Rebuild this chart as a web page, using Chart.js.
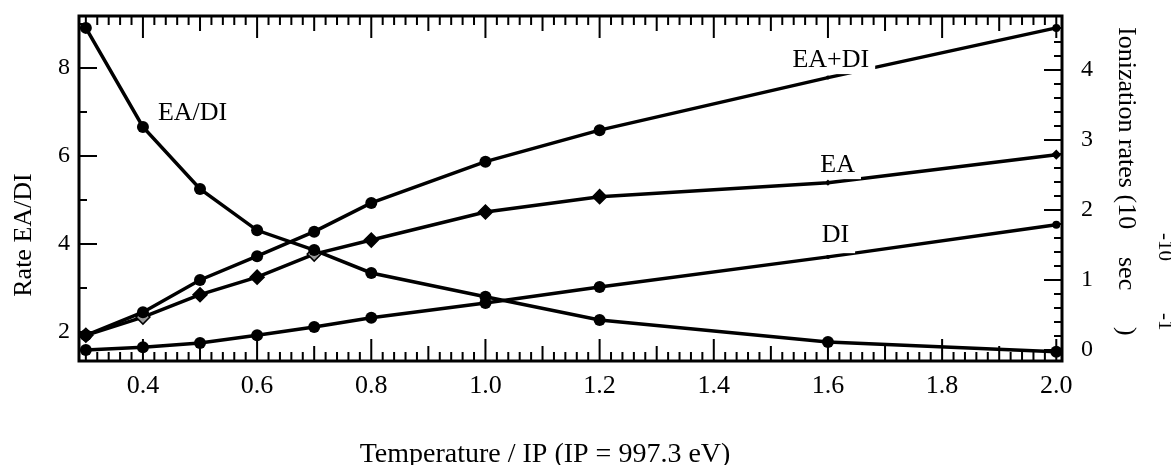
<!DOCTYPE html>
<html>
<head>
<meta charset="utf-8">
<script src="https://cdn.jsdelivr.net/npm/chart.js@4.4.1/dist/chart.umd.min.js"></script>
<style>
  body { margin: 0; background: #fff; }
  #wrap { width: 1171px; height: 465px; position: relative; }
</style>
</head>
<body>
<div id="wrap"><canvas id="rateChart"></canvas></div>
<script>
// data
var temps      = [0.3, 0.4, 0.5, 0.6, 0.7, 0.8, 1.0, 1.2, 1.6, 2.0];
var ratioEaDi  = [8.91, 6.66, 5.25, 4.31, 3.86, 3.34, 2.80, 2.27, 1.77, 1.55]; // left axis
var rateEaDi   = [0.21, 0.54, 1.00, 1.34, 1.69, 2.10, 2.69, 3.14, 3.89, 4.60]; // right axis
var rateEa     = [0.21, 0.47, 0.79, 1.04, 1.37, 1.57, 1.97, 2.19, 2.39, 2.79];
var rateDi     = [0.00, 0.04, 0.10, 0.21, 0.33, 0.46, 0.67, 0.90, 1.33, 1.79];

var xTicks     = [0.4, 0.6, 0.8, 1.0, 1.2, 1.4, 1.6, 1.8, 2.0];
var leftTicks  = [2, 4, 6, 8];
var rightTicks = [0, 1, 2, 3, 4];

var serif = '"Liberation Serif", "DejaVu Serif", serif';

function pts(arr) {
  return temps.map(function(t, i) { return {x: t, y: arr[i]}; });
}

// labels placed next to the curves (in data coords)
var seriesLabels = [
  {text: 'EA/DI', x: 0.487, y: 6.98, axis: 'y',  gap: 0},
  {text: 'EA+DI', x: 1.605, y: 4.14, axis: 'y2', gap: 14},
  {text: 'EA',    x: 1.617, y: 2.64, axis: 'y2', gap: 14},
  {text: 'DI',    x: 1.613, y: 1.64, axis: 'y2', gap: 18}
];

var labelPlugin = {
  id: 'seriesLabels',
  afterDatasetsDraw: function(chart) {
    var ctx = chart.ctx, xs = chart.scales.x;
    ctx.save();
    ctx.font = '26px ' + serif;
    ctx.textAlign = 'center';
    ctx.textBaseline = 'middle';
    seriesLabels.forEach(function(l) {
      var px = xs.getPixelForValue(l.x);
      var py = chart.scales[l.axis].getPixelForValue(l.y);
      var w = ctx.measureText(l.text).width;
      if (l.gap) {
        ctx.fillStyle = '#fff';
        ctx.fillRect(px - w / 2 - 4, py - 12, w + 10, 12 + l.gap);
      }
      ctx.fillStyle = '#000';
      ctx.fillText(l.text, px, py);
    });
    ctx.restore();
  }
};

// frame, inward ticks and axis titles
var framePlugin = {
  id: 'frame',
  afterDraw: function(chart) {
    var ctx = chart.ctx, a = chart.chartArea;
    var xs = chart.scales.x, yl = chart.scales.y, yr = chart.scales.y2;
    ctx.save();
    ctx.strokeStyle = '#000';
    ctx.lineWidth = 3;
    ctx.strokeRect(a.left, a.top, a.right - a.left, a.bottom - a.top);

    ctx.lineWidth = 2;
    ctx.beginPath();
    for (var i = 15; i <= 100; i++) {
      var x = xs.getPixelForValue(i / 50);
      var len = (i % 10 === 0) ? 22 : (i % 5 === 0 ? 15 : 9);
      ctx.moveTo(x, a.bottom); ctx.lineTo(x, a.bottom - len);
      ctx.moveTo(x, a.top); ctx.lineTo(x, a.top + len);
    }
    for (var v = 2; v <= 9; v++) {
      var y = yl.getPixelForValue(v);
      ctx.moveTo(a.left, y); ctx.lineTo(a.left + (v % 2 === 0 ? 18 : 8), y);
    }
    for (var k = 0; k <= 23; k++) {
      var y2 = yr.getPixelForValue(k / 5);
      ctx.moveTo(a.right, y2); ctx.lineTo(a.right - (k % 5 === 0 ? 18 : 8), y2);
    }
    ctx.stroke();

    ctx.fillStyle = '#000';
    // bottom title
    ctx.font = '28px ' + serif;
    ctx.textAlign = 'center';
    ctx.textBaseline = 'middle';
    ctx.fillText('Temperature / IP (IP = 997.3 eV)', 545, 455);

    // left title
    ctx.save();
    ctx.translate(24, 235);
    ctx.rotate(-Math.PI / 2);
    ctx.font = '26px ' + serif;
    ctx.fillText('Rate EA/DI', 0, 0);
    ctx.restore();

    // right title, rotated clockwise, with exponents
    ctx.save();
    ctx.translate(1119, 27);
    ctx.rotate(Math.PI / 2);
    ctx.textAlign = 'left';
    ctx.textBaseline = 'alphabetic';
    ctx.font = '26px ' + serif;
    ctx.fillText('Ionization rates (10', 0, 0);
    ctx.fillText('sec', 230, 0);
    ctx.fillText(')', 300, 0);
    ctx.font = '21px ' + serif;
    ctx.fillText('-10', 206, -40);
    ctx.fillText('-1', 286, -40);
    ctx.restore();

    ctx.restore();
  }
};

function setTicks(list) {
  return function(scale) {
    scale.ticks = list.map(function(v) { return {value: v}; });
  };
}

function fitY(w) {
  return function(s) { s.width = w; s.paddingTop = 0; s.paddingBottom = 0; };
}

var bigDot = function(ctx) { return ctx.dataIndex === 8 ? 2 : (ctx.dataIndex === 9 ? 4 : 6); };

var ctx = document.getElementById('rateChart').getContext('2d');
var myChart = new Chart(ctx, {
  type: 'line',
  data: {
    datasets: [
      {
        label: 'EA/DI', data: pts(ratioEaDi), yAxisID: 'y',
        borderColor: '#000', backgroundColor: '#000', borderWidth: 3.5,
        pointRadius: 6, pointBorderWidth: 0, tension: 0
      },
      {
        label: 'EA+DI', data: pts(rateEaDi), yAxisID: 'y2',
        borderColor: '#000', backgroundColor: '#000', borderWidth: 3.5,
        pointRadius: bigDot, pointBorderWidth: 0, tension: 0
      },
      {
        label: 'EA', data: pts(rateEa), yAxisID: 'y2',
        borderColor: '#000', borderWidth: 3.5, pointStyle: 'rectRot',
        pointBackgroundColor: function(c) { return [0, 1, 4].indexOf(c.dataIndex) >= 0 ? '#999' : '#000'; },
        pointBorderColor: '#000', pointBorderWidth: 1.5,
        pointRadius: function(c) { return c.dataIndex === 8 ? 2 : (c.dataIndex === 9 ? 4 : 7); },
        tension: 0
      },
      {
        label: 'DI', data: pts(rateDi), yAxisID: 'y2',
        borderColor: '#000', backgroundColor: '#000', borderWidth: 3.5,
        pointRadius: bigDot, pointBorderWidth: 0, tension: 0
      }
    ]
  },
  options: {
    responsive: true,
    maintainAspectRatio: false,
    animation: false,
    layout: { padding: { top: 16, left: 0, right: 0, bottom: 0 } },
    plugins: { legend: { display: false }, tooltip: { enabled: false } },
    scales: {
      x: {
        type: 'linear', min: 0.288, max: 2.01,
        afterBuildTicks: setTicks(xTicks),
        afterFit: function(s) { s.height = 104; s.paddingLeft = 0; s.paddingRight = 0; },
        grid: { display: false, drawTicks: false },
        border: { display: false },
        ticks: {
          padding: 10, color: '#000', font: { family: serif, size: 26 },
          callback: function(v) { return v.toFixed(1); }
        }
      },
      y: {
        type: 'linear', position: 'left', min: 1.34, max: 9.18,
        afterBuildTicks: setTicks(leftTicks),
        afterFit: fitY(79),
        grid: { display: false, drawTicks: false },
        border: { display: false },
        ticks: { padding: 9, color: '#000', font: { family: serif, size: 24 } }
      },
      y2: {
        type: 'linear', position: 'right', min: -0.157, max: 4.77,
        afterBuildTicks: setTicks(rightTicks),
        afterFit: fitY(109),
        grid: { display: false, drawTicks: false },
        border: { display: false },
        ticks: { padding: 19, color: '#000', font: { family: serif, size: 24 } }
      }
    }
  },
  plugins: [labelPlugin, framePlugin]
});
</script>
</body>
</html>
